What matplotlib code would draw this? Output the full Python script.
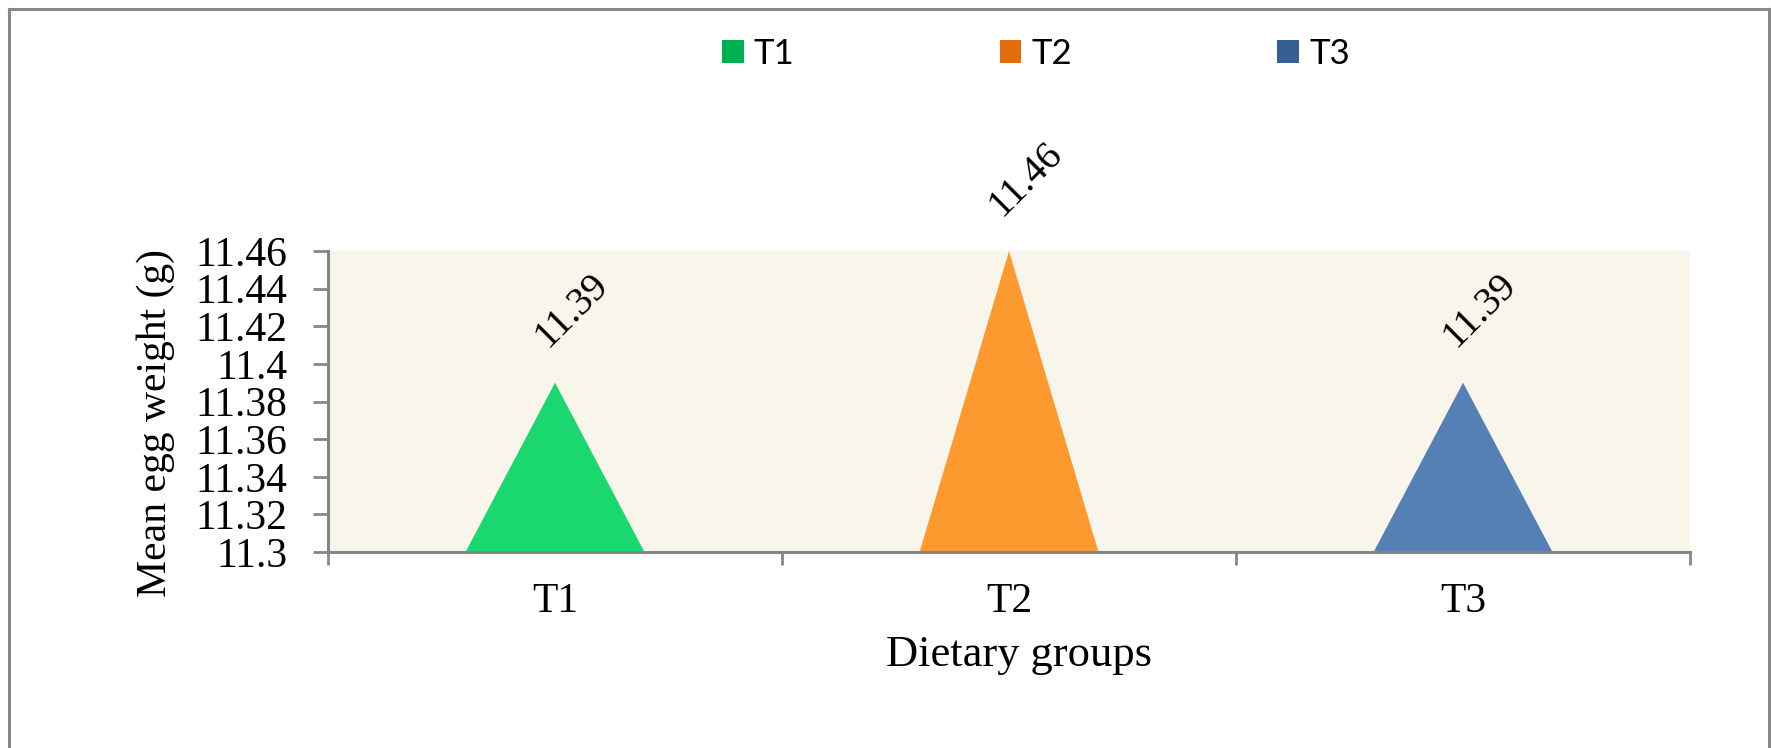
import numpy as np
import matplotlib.pyplot as plt
from matplotlib.patches import Patch
from matplotlib.lines import Line2D

# data
groups = ['T1', 'T2', 'T3']
egg_weight = [11.39, 11.46, 11.39]
yticks = [11.3, 11.32, 11.34, 11.36, 11.38, 11.4, 11.42, 11.44, 11.46]
ytick_labels = ['11.3', '11.32', '11.34', '11.36', '11.38', '11.4', '11.42', '11.44', '11.46']

fill_colors = ['#1BD76F', '#FD9A2F', '#5480B5']
legend_colors = ['#00B050', '#E46C0A', '#375F93']

serif = ['Liberation Serif', 'DejaVu Serif']
grey = '#868686'

fig = plt.figure(figsize=(17.71, 7.48), dpi=100)
ax = fig.add_axes([0.1852, 0.2620, 0.9543 - 0.1852, 0.6644 - 0.2620])
ax.set_facecolor('#F8F5EB')

ymin = 11.3
half = 0.197
for i, v in enumerate(egg_weight):
    ax.fill([i - half, i, i + half], [ymin, v, ymin], color=fill_colors[i], lw=0, zorder=2)
    ax.annotate(f'{v:.2f}', xy=(i, v), xytext=(12, 52), textcoords='offset points',
                rotation=45, ha='center', va='center', fontsize=28.5, family=serif)

ax.set_xlim(-0.5, 2.5)
ax.set_ylim(11.3, 11.46)
ax.set_yticks(yticks)
ax.set_yticklabels(ytick_labels, family=serif, fontsize=30)

# category boundaries as major ticks, labels on minor ticks
ax.set_xticks([-0.5, 0.5, 1.5, 2.5])
ax.set_xticklabels([])
ax.set_xticks([0, 1, 2], minor=True)
ax.set_xticklabels(groups, minor=True, family=serif, fontsize=30)
ax.tick_params(axis='x', which='major', direction='out', length=9, width=2, color=grey)
ax.tick_params(axis='x', which='minor', length=0, pad=22)
ax.tick_params(axis='y', direction='out', length=11, width=2, color=grey, pad=18)

for s in ['top', 'right']:
    ax.spines[s].set_visible(False)
for s in ['left', 'bottom']:
    ax.spines[s].set_color(grey)
    ax.spines[s].set_linewidth(2.2)

ax.set_xlabel('Dietary groups', family=serif, fontsize=32, va='top')
ax.xaxis.set_label_coords(0.507, -0.275)
ax.set_ylabel('Mean egg weight (g)', family=serif, fontsize=30)
ax.yaxis.set_label_coords(-0.112, 0.43)

handles = [Patch(facecolor=c, edgecolor='none') for c in legend_colors]
fig.legend(handles, groups, loc='center', bbox_to_anchor=(0.585, 0.928), ncol=3,
           frameon=False, prop={'family': ['Lato', 'DejaVu Sans'], 'size': 25},
           handlelength=0.63, handleheight=0.63, handletextpad=0.3, columnspacing=5.9)

# outer frame (bottom edge is cut off in the original)
fx0, fx1, fy1 = 9 / 1771, 1769 / 1771, 1 - 9 / 748
frame = dict(color='#888888', lw=2.2, transform=fig.transFigure)
fig.add_artist(Line2D([fx0, fx0], [0, fy1], **frame))
fig.add_artist(Line2D([fx0, fx1], [fy1, fy1], **frame))
fig.add_artist(Line2D([fx1, fx1], [fy1, 0], **frame))

fig.savefig('out.png', dpi=100)
